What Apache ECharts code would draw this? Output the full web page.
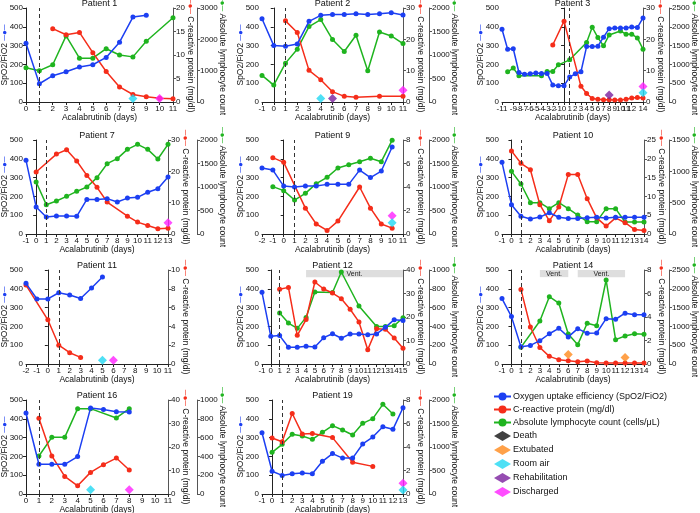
<!DOCTYPE html>
<html><head><meta charset="utf-8">
<script src="https://cdn.jsdelivr.net/npm/echarts@6/dist/echarts.min.js"></script>
<style>html,body{margin:0;padding:0;background:#fff}#c{width:700px;height:513px}</style>
</head><body><div id="c"></div>
<script>
// ---------------- DATA ----------------
const p1Spo2 = [[0,313],[1,97],[2,140],[3,161],[4,186],[5,198],[6,237],[7,318],[8,452],[9,461]];
const p1Crp  = [[2,15.6],[3,14.3],[4,14.8],[5,10.5],[6,6.5],[7,3.2],[8,1.6],[9,1.1],[10,0.8],[11,0.7]];
const p1Alc  = [[0,1090],[1,1000],[2,1190],[3,2110],[4,1400],[5,1400],[6,1700],[7,1500],[8,1440],[9,1940],[11,2690]];
const p1RoomAir = [[8,18]];
const p1Discharged = [[10,18]];

const p2Spo2 = [[-1,443],[0,300],[1,297],[2,309],[3,429],[4,461],[5,466],[6,466],[7,470],[8,466],[9,470],[10,475],[11,463]];
const p2Crp  = [[1,25.9],[2,22.2],[3,10.1],[4,7.1],[5,3.3],[6,1.8],[7,1.5],[9,1.8],[11,1.8]];
const p2Alc  = [[-1,565],[0,360],[1,827],[2,1124],[3,1604],[4,1753],[5,1329],[6,1074],[7,1420],[8,664],[9,1491],[10,1406],[11,1244]];
const p2RoomAir = [[4,18]];
const p2Rehab = [[5,18]];
const p2Discharged = [[11,62]];

const p3Spo2 = [[-11,387],[-10,281],[-9,283],[-8,157],[-7,148],[-6,150],[-5,154],[-4,152],[-3,152],[-2,90],[-1,87],[0,87],[1,133],[2,150],[3,161],[4,295],[5,295],[6,297],[7,345],[8,390],[9,394],[10,394],[11,394],[12,399],[13,396],[14,447]];
const p3Crp  = [[-2,18.2],[0,25.8],[3,5.0],[4,2.7],[5,1.1],[6,0.85],[7,0.75],[8,0.75],[9,0.6],[10,0.6],[11,0.85],[12,1.3],[13,1.4],[14,1.3]];
const p3Alc  = [[-10,804],[-9,901],[-8,698],[-4,698],[-3,812],[-2,812],[-1,989],[1,1121],[4,1581],[5,1988],[6,1714],[7,1493],[8,1784],[10,1890],[11,1802],[12,1802],[13,1705],[14,1405]];
const p3Rehab = [[8,37]];
const p3Discharged = [[14,83]];
const p3RoomAir = [[14,49]];

const p7Spo2 = [[-1,392],[0,144],[1,90],[2,96],[3,96],[4,94],[5,184],[6,184],[7,188],[8,170],[9,191],[10,195],[11,222],[12,241],[13,303]];
const p7Crp  = [[0,19.8],[2,25.5],[3,26.9],[4,23.3],[5,18.7],[6,14.9],[7,10.2],[9,5.7],[10,3.8],[11,2.7],[12,1.7],[13,1.8]];
const p7Alc  = [[0,1106],[1,624],[2,702],[3,801],[4,908],[5,1000],[6,1199],[7,1496],[8,1603],[9,1801],[10,1908],[11,1801],[12,1596],[13,1908]];
const p7Discharged = [[13,60]];

const p9Spo2 = [[-2,351],[-1,340],[0,255],[1,250],[2,255],[3,255],[4,264],[5,264],[6,264],[7,340],[8,300],[9,335],[10,463]];
const p9Crp  = [[-1,6.5],[0,6.1],[2,2.2],[3,0.85],[4,0.3],[5,1.1],[7,4.0],[8,2.2],[9,0.85],[10,0.5]];
const p9Alc  = [[-1,1007],[0,922],[1,723],[2,865],[3,1071],[4,1206],[5,1404],[6,1475],[7,1539],[8,1610],[9,1539],[10,1996]];
const p9Discharged = [[10,97]];
const p9RoomAir = [[10,60]];

const p10Spo2 = [[-1,381],[0,156],[1,94],[2,80],[3,90],[4,113],[5,89],[6,83],[7,83],[8,87],[9,89],[10,85],[11,89],[12,89],[13,89],[14,89]];
const p10Crp  = [[0,22.1],[1,18.8],[2,17.1],[3,7.8],[4,3.5],[5,7.2],[6,15.8],[7,15.8],[8,9.4],[9,4.3],[10,2.1],[11,4.3],[12,3.0],[13,1.2],[14,0.9]];
const p10Alc  = [[0,1000],[1,798],[2,500],[3,500],[4,404],[5,500],[6,404],[7,303],[8,197],[9,197],[10,404],[11,404],[12,191],[13,191],[14,191]];

const p11Spo2 = [[-2,429],[-1,346],[0,346],[1,379],[2,367],[3,348],[4,404],[5,463]];
const p11Crp  = [[-2,8.4],[0,4.7],[1,2.0],[2,1.2],[3,0.7]];
const p11RoomAir = [[5,20]];
const p11Discharged = [[6,20]];

const p12Spo2 = [[-1,381],[0,147],[1,151],[2,89],[3,89],[4,94],[5,90],[6,140],[7,161],[8,137],[9,160],[10,160],[11,156],[12,160],[13,195],[14,236],[15,232]];
const p12Crp  = [[1,31.8],[2,32.6],[3,12.2],[4,18.9],[5,34.9],[6,31.9],[7,30.2],[8,27.8],[9,23.3],[10,17.9],[11,6.1],[12,15.0],[13,14.8],[14,11.1],[15,6.7]];
const p12Alc  = [[1,543],[2,436],[3,379],[4,496],[5,766],[7,760],[8,979],[10,617],[12,400],[13,400],[14,407],[15,493]];
const p12Vent = [[4,15]];

const p14Spo2 = [[-1,348],[0,252],[1,92],[2,99],[3,124],[4,161],[5,190],[6,144],[7,188],[8,163],[9,165],[10,241],[11,238],[12,270],[13,262],[14,262]];
const p14Crp  = [[1,6.35],[2,3.15],[3,1.4],[4,0.65],[5,0.37],[6,0.28],[7,0.2],[8,0.25],[9,0.1],[10,0.08],[11,0.08],[12,0.08],[13,0.08],[14,0.08]];
const p14Alc  = [[1,443],[3,1144],[4,1791],[5,1622],[6,798],[7,514],[8,1082],[9,1020],[10,2234],[11,647],[12,745],[13,807],[14,789]];
const p14Extubated = [[6,50],[12,35]];
const p14Vent = [[3,6],[7,12]];

const p16Spo2 = [[0,431],[1,158],[2,158],[3,158],[4,199],[5,457],[6,450],[7,438],[8,436]];
const p16Crp  = [[1,32.2],[2,16.2],[3,7.5],[4,3.5],[5,9.2],[6,12.5],[7,15.3],[8,10.2]];
const p16Alc  = [[1,404],[2,603],[3,603],[4,908],[5,908],[7,809],[8,908]];
const p16RoomAir = [[5,23]];
const p16Discharged = [[8,23]];

const p19Spo2 = [[-1,326],[0,121],[1,99],[2,108],[3,112],[4,108],[5,174],[6,215],[7,191],[8,191],[9,266],[10,303],[11,358],[12,344],[13,459]];
const p19Crp  = [[0,4.77],[1,4.45],[2,6.85],[3,5.1],[4,5.15],[6,4.8],[8,2.7],[10,2.35]];
const p19Alc  = [[0,887],[1,1057],[2,1270],[3,1234],[4,1163],[5,1312],[6,1454],[7,1362],[8,1255],[9,1504],[10,1603],[11,1908],[12,1702]];
const p19Discharged = [[13,57]];
const p19RoomAir = [[13,21]];

// axis ranges: [xMin, xMax], CRP [max, interval], ALC [max, interval]
const patientIds = [1,2,3,7,9,10,11,12,14,16,19];
const xRanges  = [[0,11],[-1,11],[-11,14],[-1,13],[-2,11],[-1,14],[-2,11],[-1,15],[-1,14],[0,11],[-1,13]];
const crpRanges = [[20,5],[30,10],[30,10],[30,10],[8,2],[25,5],[10,2],[40,10],[8,2],[40,10],[8,2]];
const alcRanges = [[3000,1000],[2000,500],[2500,500],[2000,500],[2000,500],[1500,500],null,[1000,200],[2500,500],[1000,200],[2000,500]];

const seriesNames = ['Oxygen uptake efficiency (SpO2/FiO2)','C-reactive protein (mg/dl)','Absolute lymphocyte count (cells/\u03bcL)'];
const eventNames = ['Death','Extubated','Room air','Rehabilitation','Discharged'];

// ---------------- STYLE / LAYOUT ----------------
const BLUE='#1c3ff2', RED='#f52d1a', GREEN='#1fb41f';
const EVCOL = {'Death':'#111111','Extubated':'#ff8a1c','Room air':'#22d8f2','Rehabilitation':'#7a1f9e','Discharged':'#ff20ff'};
const layout = [
  {l:26,r:173,t:8,off:24},{l:262,r:403,t:8,off:26},{l:502,r:643,t:8,off:26},
  {l:26,r:168,t:140,off:29},{l:262,r:403,t:140,off:26},{l:502,r:644,t:140,off:25},
  {l:26,r:168,t:270,off:29},{l:262,r:403,t:270,off:26},{l:502,r:644,t:270,off:25},
  {l:26,r:168,t:400,off:29},{l:262,r:403,t:400,off:26}
];
const H = 94;

const pdata = {
  1:{s:p1Spo2,c:p1Crp,a:p1Alc,ev:{'Room air':p1RoomAir,'Discharged':p1Discharged}},
  2:{s:p2Spo2,c:p2Crp,a:p2Alc,ev:{'Room air':p2RoomAir,'Rehabilitation':p2Rehab,'Discharged':p2Discharged}},
  3:{s:p3Spo2,c:p3Crp,a:p3Alc,ev:{'Rehabilitation':p3Rehab,'Discharged':p3Discharged,'Room air':p3RoomAir}},
  7:{s:p7Spo2,c:p7Crp,a:p7Alc,ev:{'Discharged':p7Discharged}},
  9:{s:p9Spo2,c:p9Crp,a:p9Alc,ev:{'Discharged':p9Discharged,'Room air':p9RoomAir}},
  10:{s:p10Spo2,c:p10Crp,a:p10Alc,ev:{}},
  11:{s:p11Spo2,c:p11Crp,a:null,ev:{'Room air':p11RoomAir,'Discharged':p11Discharged}},
  12:{s:p12Spo2,c:p12Crp,a:p12Alc,ev:{},vent:p12Vent},
  14:{s:p14Spo2,c:p14Crp,a:p14Alc,ev:{'Extubated':p14Extubated},vent:p14Vent},
  16:{s:p16Spo2,c:p16Crp,a:p16Alc,ev:{'Room air':p16RoomAir,'Discharged':p16Discharged}},
  19:{s:p19Spo2,c:p19Crp,a:p19Alc,ev:{'Discharged':p19Discharged,'Room air':p19RoomAir}}
};

const FONT = 'Liberation Sans, Arial, Helvetica, sans-serif';
const AX = '#222';
const grids=[], xAxes=[], yAxes=[], series=[], titles=[];
const icon = '\u2500\u25CF\u2500';
const plain = v => String(v);

function lineSeries(name, data, color, xi, yi, extra){
  return Object.assign({
    name, type:'line', data, xAxisIndex:xi, yAxisIndex:yi,
    symbol:'circle', symbolSize:5, color,
    lineStyle:{width:1.5,color}, itemStyle:{color},
    emphasis:{disabled:true}, silent:true
  }, extra||{});
}

patientIds.forEach((pid,i)=>{
  const L = layout[i], d = pdata[pid];
  grids.push({left:L.l, top:L.t, width:L.r-L.l, height:H, outerBoundsMode:'none', containLabel:false});
  titles.push({text:'Patient '+pid, left:(L.l+L.r)/2, top:L.t-9, textAlign:'center',
    textStyle:{fontSize:9,fontWeight:'normal',color:'#111',fontFamily:FONT}, padding:0});
  xAxes.push({gridIndex:i, type:'value', min:xRanges[i][0], max:xRanges[i][1], interval:1,
    name:'Acalabrutinib (days)', nameLocation:'middle', nameGap:11, nameMoveOverlap:false,
    nameTextStyle:{fontSize:8.5,color:'#111',fontFamily:FONT},
    axisLine:{show:true,onZero:false,lineStyle:{color:AX,width:1}},
    axisTick:{show:true,length:3,lineStyle:{color:AX}},
    axisLabel:{fontSize:8,color:'#111',margin:3,fontFamily:FONT,hideOverlap:false,showMinLabel:true,showMaxLabel:true,formatter:plain},
    splitLine:{show:false}});
  const yS = yAxes.length;
  yAxes.push({gridIndex:i, type:'value', position:'left', min:0, max:500, interval:100,
    name:'SpO2/FiO2 {ic|'+icon+'}', nameLocation:'middle', nameGap:17, nameMoveOverlap:false,
    nameTextStyle:{fontSize:8.5,color:'#111',fontFamily:FONT,rich:{ic:{color:BLUE,fontSize:8}}},
    axisLine:{show:true,lineStyle:{color:AX,width:1}},
    axisTick:{show:true,length:3,lineStyle:{color:AX}},
    axisLabel:{fontSize:8,color:'#111',margin:3,fontFamily:FONT,formatter:plain},
    splitLine:{show:false}});
  const yC = yAxes.length;
  yAxes.push({gridIndex:i, type:'value', position:'right', offset:0, min:0, max:crpRanges[i][0], interval:crpRanges[i][1],
    name:'{ic|'+icon+'} C-reactive protein (mg/dl)', nameLocation:'middle', nameGap:13, nameRotate:-90, nameMoveOverlap:false,
    nameTextStyle:{fontSize:8.5,color:'#111',fontFamily:FONT,rich:{ic:{color:RED,fontSize:8}}},
    axisLine:{show:true,lineStyle:{color:'#555',width:1}},
    axisTick:{show:true,length:3,lineStyle:{color:'#555'}},
    axisLabel:{fontSize:8,color:'#111',margin:3,fontFamily:FONT,formatter:plain},
    splitLine:{show:false}});
  let yA = null;
  if (alcRanges[i]) {
    yA = yAxes.length;
    yAxes.push({gridIndex:i, type:'value', position:'right', offset:L.off, min:0, max:alcRanges[i][0], interval:alcRanges[i][1],
      name:'{ic|'+icon+'} Absolute lymphocyte count', nameLocation:'middle', nameGap:21, nameRotate:-90, nameMoveOverlap:false,
      nameTextStyle:{fontSize:8.5,color:'#111',fontFamily:FONT,rich:{ic:{color:GREEN,fontSize:8}}},
      axisLine:{show:true,lineStyle:{color:'#555',width:1}},
      axisTick:{show:true,length:3,lineStyle:{color:'#555'}},
      axisLabel:{fontSize:8,color:'#111',margin:3,fontFamily:FONT,formatter:plain},
      splitLine:{show:false}});
  }
  if (yA!==null) series.push(lineSeries(seriesNames[2], d.a, GREEN, i, yA, {z:2}));
  series.push(lineSeries(seriesNames[1], d.c, RED, i, yC, {z:3}));
  const extra = {z:4,
    markLine:{silent:true, symbol:['none','none'], label:{show:false},
      lineStyle:{color:'#333',type:[4,3],width:1}, data:[{xAxis:1}]}};
  if (d.vent) {
    extra.markArea = {silent:true, itemStyle:{color:'#dedede'},
      label:{show:true,position:'inside',fontSize:7,color:'#222',fontFamily:FONT},
      data: d.vent.map(v=>[{xAxis:v[0],yAxis:462,name:'Vent.'},{xAxis:v[1],yAxis:500}])};
  }
  series.push(lineSeries(seriesNames[0], d.s, BLUE, i, yS, extra));
  Object.keys(d.ev).forEach(k=>{
    series.push({name:k, type:'scatter', data:d.ev[k], xAxisIndex:i, yAxisIndex:yS,
      symbol:'diamond', symbolSize:9, itemStyle:{color:EVCOL[k]}, z:5, silent:true});
  });
});
// empty series so that "Death" appears in legend
series.push({name:'Death', type:'scatter', data:[], xAxisIndex:0, yAxisIndex:0, symbol:'diamond', itemStyle:{color:EVCOL['Death']}});

const chart = echarts.init(document.getElementById('c'), null, {renderer:'canvas'});
chart.setOption({
  animation:false,
  backgroundColor:'#fff',
  title:titles,
  grid:grids, xAxis:xAxes, yAxis:yAxes, series,
  legend:{orient:'vertical', left:488, top:387, itemWidth:17, itemHeight:10, itemGap:4,
    selectedMode:false, symbolKeepAspect:true,
    textStyle:{fontSize:9,color:'#111',fontFamily:FONT,padding:[0,0,0,-3]},
    data:[
      {name:seriesNames[0]},{name:seriesNames[1]},{name:seriesNames[2]},
      {name:'Death',icon:'diamond'},{name:'Extubated',icon:'diamond'},{name:'Room air',icon:'diamond'},
      {name:'Rehabilitation',icon:'diamond'},{name:'Discharged',icon:'diamond'}
    ]
  }
});
</script></body></html>
